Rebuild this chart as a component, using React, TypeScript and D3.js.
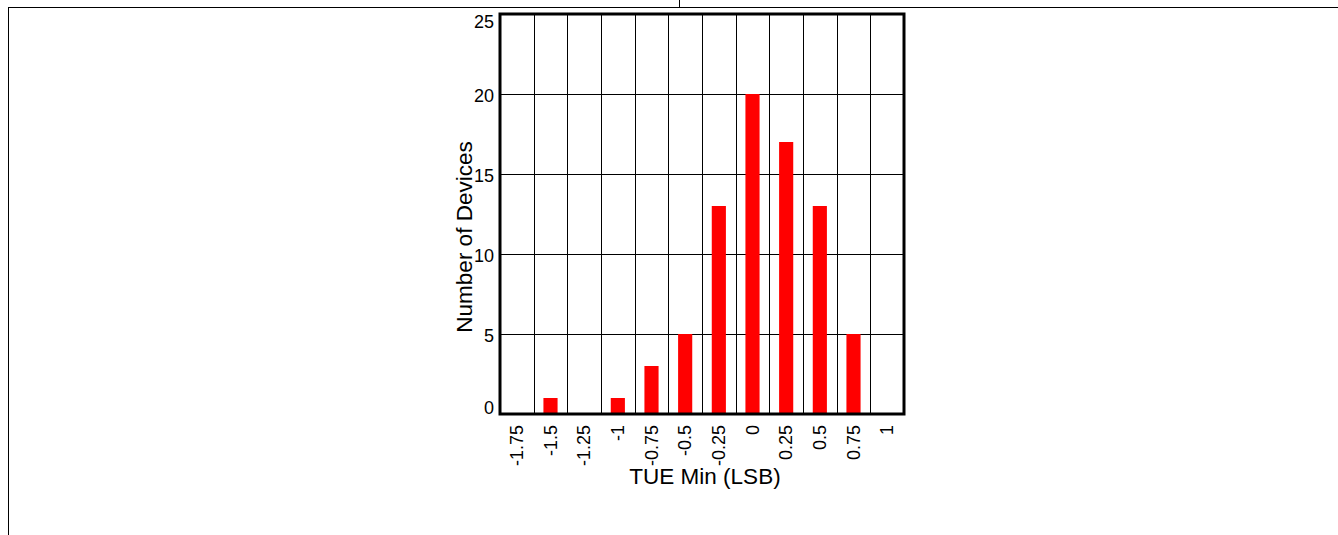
import * as d3 from "d3";

const categories = ["-1.75", "-1.5", "-1.25", "-1", "-0.75", "-0.5", "-0.25", "0", "0.25", "0.5", "0.75", "1"];
const counts = [0, 1, 0, 1, 3, 5, 13, 20, 17, 13, 5, 0];
const yTicks = [0, 5, 10, 15, 20, 25];

const W = 1338;
const H = 535;
const FONT = "Arial, 'Liberation Sans', sans-serif";

const plot = { left: 500, right: 904, top: 14, bottom: 414 };

export default function App() {
  const x = d3
    .scaleBand<string>()
    .domain(categories)
    .range([plot.left, plot.right]);
  const y = d3.scaleLinear().domain([0, 25]).range([plot.bottom, plot.top]);
  const barW = x.bandwidth() * 0.42;

  // vertical grid at bin boundaries
  const bounds = categories.slice(1).map((c) => x(c) as number);

  return (
    <svg
      width={W}
      height={H}
      style={{ position: "absolute", left: 0, top: 0, background: "#fff" }}
    >
      {/* page frame */}
      <line x1={8} x2={W} y1={7.5} y2={7.5} stroke="#000" strokeWidth={1} />
      <line x1={8.5} x2={8.5} y1={7} y2={H} stroke="#000" strokeWidth={1} />
      <line x1={679.5} x2={679.5} y1={0} y2={7} stroke="#000" strokeWidth={1} />

      {/* grid */}
      {yTicks.slice(1, -1).map((t) => (
        <line
          key={"h" + t}
          x1={plot.left}
          x2={plot.right}
          y1={Math.round(y(t)) + 0.5}
          y2={Math.round(y(t)) + 0.5}
          stroke="#000"
          strokeWidth={1}
        />
      ))}
      {bounds.map((b, i) => (
        <line
          key={"v" + i}
          x1={Math.round(b) + 0.5}
          x2={Math.round(b) + 0.5}
          y1={plot.top}
          y2={plot.bottom}
          stroke="#000"
          strokeWidth={1}
        />
      ))}

      {/* bars */}
      {categories.map((c, i) =>
        counts[i] > 0 ? (
          <rect
            key={"b" + c}
            x={(x(c) as number) + x.bandwidth() / 2 - barW / 2}
            y={y(counts[i])}
            width={barW}
            height={y(0) - y(counts[i])}
            fill="#ff0000"
          />
        ) : null
      )}

      {/* frame */}
      <rect
        x={plot.left}
        y={plot.top}
        width={plot.right - plot.left}
        height={plot.bottom - plot.top}
        fill="none"
        stroke="#000"
        strokeWidth={3}
      />

      {/* y tick labels */}
      {yTicks.map((t) => {
        const cy = Math.min(Math.max(y(t) + 2, plot.top + 8), plot.bottom - 6);
        return (
          <text
            key={"yt" + t}
            x={494}
            y={cy}
            dy="0.35em"
            textAnchor="end"
            fontFamily={FONT}
            fontSize={18}
            fill="#000"
          >
            {t}
          </text>
        );
      })}

      {/* x tick labels */}
      {categories.map((c) => {
        const cx = (x(c) as number) + x.bandwidth() / 2;
        return (
          <text
            key={"xt" + c}
            transform={`translate(${cx},${425}) rotate(-90)`}
            dy="0.35em"
            textAnchor="end"
            fontFamily={FONT}
            fontSize={18}
            fill="#000"
          >
            {c}
          </text>
        );
      })}

      {/* axis titles */}
      <text
        x={(plot.left + plot.right) / 2 + 3}
        y={484}
        textAnchor="middle"
        fontFamily={FONT}
        fontSize={22.5}
        fill="#000"
      >
        TUE Min (LSB)
      </text>
      <text
        transform={`translate(472,${237}) rotate(-90)`}
        textAnchor="middle"
        fontFamily={FONT}
        fontSize={22.5}
        fill="#000"
      >
        Number of Devices
      </text>
    </svg>
  );
}
